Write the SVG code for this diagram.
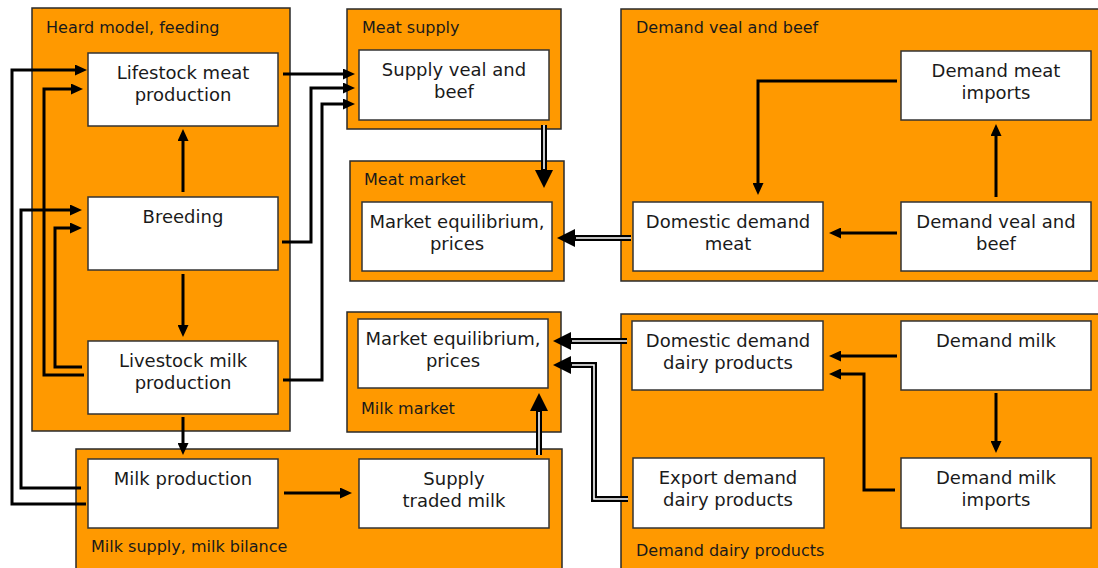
<svg xmlns="http://www.w3.org/2000/svg" width="1098" height="568" viewBox="0 0 1098 568">
<defs>
<style>
.grp{fill:#FF9900;stroke:#2a2a2a;stroke-width:1.5}
.box{fill:#ffffff;stroke:#333333;stroke-width:1.5}
.lbl{font-family:"DejaVu Sans",Verdana,sans-serif;font-size:16px;fill:#1a1a1a}
.txt{font-family:"DejaVu Sans",Verdana,sans-serif;font-size:18px;fill:#1a1a1a;text-anchor:middle}
.ln{fill:none;stroke:#000;stroke-width:3}
.dbl{fill:none;stroke:#000;stroke-width:6}
.dblw{fill:none;stroke:#fff;stroke-width:1.6}
</style>
<marker id="ah" viewBox="0 0 12 11" refX="2" refY="5.5" markerWidth="12" markerHeight="11" markerUnits="userSpaceOnUse" orient="auto">
<path d="M0,0 L12,5.5 L0,11 z" fill="#000"/>
</marker>
<marker id="ahd" viewBox="0 0 18 18" refX="1" refY="9" markerWidth="18" markerHeight="18" markerUnits="userSpaceOnUse" orient="auto">
<path d="M0,0 L18,9 L0,18 z" fill="#000"/>
</marker>
</defs>
<rect width="1098" height="568" fill="#ffffff"/>

<g id="grp-heard">
<rect class="grp" x="32" y="8" width="258" height="423"/>
<text class="lbl" x="46" y="33">Heard model, feeding</text>
</g>
<g id="grp-meat-supply">
<rect class="grp" x="347" y="9" width="214" height="120"/>
<text class="lbl" x="362" y="33">Meat supply</text>
</g>
<g id="grp-meat-market">
<rect class="grp" x="350" y="161" width="214" height="120"/>
<text class="lbl" x="364" y="185">Meat market</text>
</g>
<g id="grp-demand-veal">
<rect class="grp" x="621" y="9" width="480" height="272"/>
<text class="lbl" x="636" y="33">Demand veal and beef</text>
</g>
<g id="grp-milk-market">
<rect class="grp" x="347" y="312" width="214" height="120"/>
<text class="lbl" x="361" y="414">Milk market</text>
</g>
<g id="grp-milk-supply">
<rect class="grp" x="76" y="449" width="486" height="125"/>
<text class="lbl" x="91" y="552">Milk supply, milk bilance</text>
</g>
<g id="grp-demand-dairy">
<rect class="grp" x="621" y="314" width="480" height="260"/>
<text class="lbl" x="636" y="556">Demand dairy products</text>
</g>

<g id="n-lifestock-meat">
<rect class="box" x="88" y="53" width="190" height="73"/>
<text class="txt" x="183" y="79">Lifestock meat</text>
<text class="txt" x="183" y="101">production</text>
</g>
<g id="n-breeding">
<rect class="box" x="88" y="197" width="190" height="73"/>
<text class="txt" x="183" y="223">Breeding</text>
</g>
<g id="n-livestock-milk">
<rect class="box" x="88" y="341" width="190" height="73"/>
<text class="txt" x="183" y="367">Livestock milk</text>
<text class="txt" x="183" y="389">production</text>
</g>
<g id="n-milk-production">
<rect class="box" x="88" y="459" width="190" height="69"/>
<text class="txt" x="183" y="485">Milk production</text>
</g>
<g id="n-supply-veal">
<rect class="box" x="359" y="50" width="190" height="70"/>
<text class="txt" x="454" y="76">Supply veal and</text>
<text class="txt" x="454" y="98">beef</text>
</g>
<g id="n-meat-equilibrium">
<rect class="box" x="362" y="202" width="190" height="69"/>
<text class="txt" x="457" y="228">Market equilibrium,</text>
<text class="txt" x="457" y="250">prices</text>
</g>
<g id="n-milk-equilibrium">
<rect class="box" x="358" y="319" width="190" height="69"/>
<text class="txt" x="453" y="345">Market equilibrium,</text>
<text class="txt" x="453" y="367">prices</text>
</g>
<g id="n-supply-traded-milk">
<rect class="box" x="359" y="459" width="190" height="69"/>
<text class="txt" x="454" y="485">Supply</text>
<text class="txt" x="454" y="507">traded milk</text>
</g>
<g id="n-demand-meat-imports">
<rect class="box" x="901" y="51" width="190" height="69"/>
<text class="txt" x="996" y="77">Demand meat</text>
<text class="txt" x="996" y="99">imports</text>
</g>
<g id="n-domestic-demand-meat">
<rect class="box" x="633" y="202" width="190" height="69"/>
<text class="txt" x="728" y="228">Domestic demand</text>
<text class="txt" x="728" y="250">meat</text>
</g>
<g id="n-demand-veal-beef">
<rect class="box" x="901" y="202" width="190" height="69"/>
<text class="txt" x="996" y="228">Demand veal and</text>
<text class="txt" x="996" y="250">beef</text>
</g>
<g id="n-domestic-demand-dairy">
<rect class="box" x="632" y="321" width="191" height="69"/>
<text class="txt" x="728" y="347">Domestic demand</text>
<text class="txt" x="728" y="369">dairy products</text>
</g>
<g id="n-demand-milk">
<rect class="box" x="901" y="321" width="190" height="69"/>
<text class="txt" x="996" y="347">Demand milk</text>
</g>
<g id="n-export-demand-dairy">
<rect class="box" x="633" y="458" width="191" height="70"/>
<text class="txt" x="728" y="484">Export demand</text>
<text class="txt" x="728" y="506">dairy products</text>
</g>
<g id="n-demand-milk-imports">
<rect class="box" x="901" y="458" width="190" height="70"/>
<text class="txt" x="996" y="484">Demand milk</text>
<text class="txt" x="996" y="506">imports</text>
</g>

<g id="connectors">
<path class="ln" marker-end="url(#ah)" d="M86,504 H12 V70 H77"/>
<path class="ln" marker-end="url(#ah)" d="M81,488 H21 V210 H72"/>
<path class="ln" marker-end="url(#ah)" d="M84,375 H44 V89 H73"/>
<path class="ln" marker-end="url(#ah)" d="M82,367 H55 V228 H72"/>
<path class="ln" marker-end="url(#ah)" d="M283,74 H345"/>
<path class="ln" marker-end="url(#ah)" d="M282,242 H311 V88 H345"/>
<path class="ln" marker-end="url(#ah)" d="M283,380 H322 V104 H345"/>
<path class="ln" marker-end="url(#ah)" d="M183,192 V139"/>
<path class="ln" marker-end="url(#ah)" d="M183,274 V327"/>
<path class="ln" marker-end="url(#ah)" d="M183,417 V445"/>
<path class="ln" marker-end="url(#ah)" d="M284,493 H342"/>
<path class="ln" marker-end="url(#ah)" d="M897,81 H758 V185"/>
<path class="ln" marker-end="url(#ah)" d="M897,233 H839"/>
<path class="ln" marker-end="url(#ah)" d="M996,197 V134"/>
<path class="ln" marker-end="url(#ah)" d="M897,356 H839"/>
<path class="ln" marker-end="url(#ah)" d="M895,490 H864 V374 H839"/>
<path class="ln" marker-end="url(#ah)" d="M996,393 V443"/>

<path class="dbl" marker-end="url(#ahd)" d="M544,125 V171"/>
<path class="dblw" d="M544,125 V169"/>
<path class="dbl" marker-end="url(#ahd)" d="M631,238 H574"/>
<path class="dblw" d="M631,238 H576"/>
<path class="dbl" marker-end="url(#ahd)" d="M627,341 H570"/>
<path class="dblw" d="M627,341 H572"/>
<path class="dbl" marker-end="url(#ahd)" d="M628,499 H594 V365 H570"/>
<path class="dblw" d="M628,499 H594 V365 H572"/>
<path class="dbl" marker-end="url(#ahd)" d="M539,455 V410"/>
<path class="dblw" d="M539,455 V412"/>
</g>
</svg>
